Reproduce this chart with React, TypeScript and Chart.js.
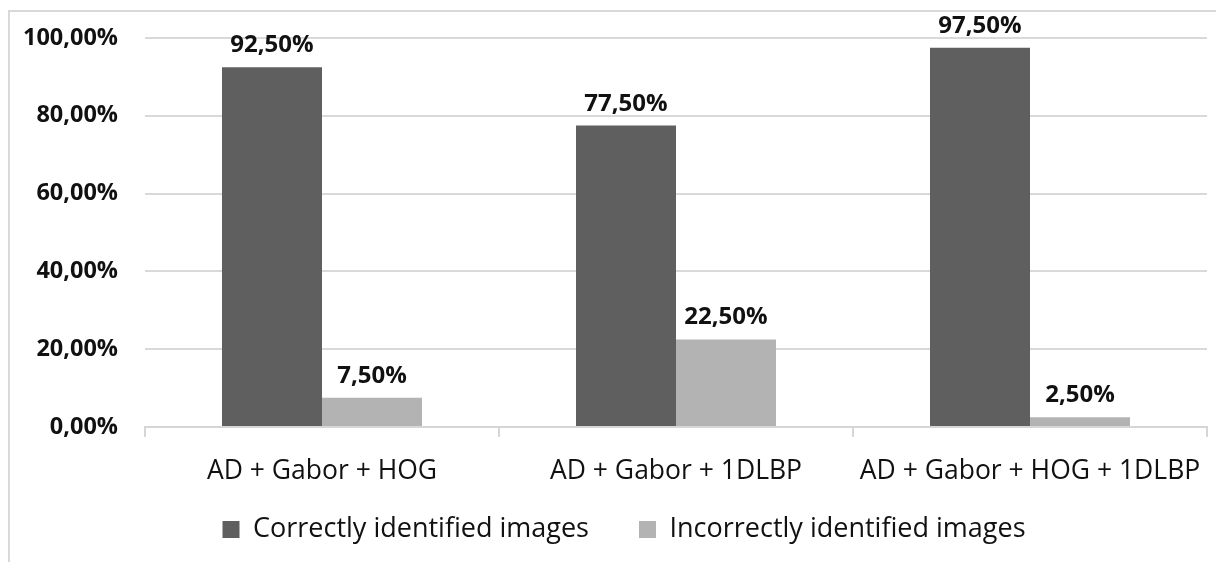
import React, { useEffect, useRef } from "react";
import { Chart, registerables } from "chart.js";

Chart.register(...registerables);

const categories = ["AD + Gabor + HOG", "AD + Gabor + 1DLBP", "AD + Gabor + HOG + 1DLBP"];
const correctValues = [92.5, 77.5, 97.5];
const incorrectValues = [7.5, 22.5, 2.5];
const seriesNames = ["Correctly identified images", "Incorrectly identified images"];
const yTicks = [0, 20, 40, 60, 80, 100];

const FONT = "'Open Sans', 'Noto Sans', sans-serif";
const fmt = (v: number) => v.toFixed(2).replace(".", ",") + "%";

const labelPlugin = {
  id: "barLabels",
  afterDatasetsDraw(chart: any) {
    const ctx = chart.ctx;
    ctx.save();
    ctx.font = `bold 24px ${FONT}`;
    ctx.fillStyle = "#111111";
    ctx.textAlign = "center";
    ctx.textBaseline = "alphabetic";
    chart.data.datasets.forEach((ds: any, di: number) => {
      const meta = chart.getDatasetMeta(di);
      meta.data.forEach((bar: any, i: number) => {
        ctx.fillText(fmt(ds.data[i]), bar.x, bar.y - 15);
      });
    });
    ctx.restore();
  },
};

export default function App() {
  const ref = useRef<HTMLCanvasElement | null>(null);
  useEffect(() => {
    if (!ref.current) return;
    const chart = new Chart(ref.current, {
      type: "bar",
      data: {
        labels: categories,
        datasets: [
          { label: seriesNames[0], data: correctValues, backgroundColor: "#5f5f5f" },
          { label: seriesNames[1], data: incorrectValues, backgroundColor: "#b3b3b3" },
        ],
      },
      plugins: [labelPlugin],
      options: {
        animation: false,
        responsive: true,
        maintainAspectRatio: false,
        layout: { padding: { top: 26, left: 31, right: 9, bottom: 9 } },
        datasets: { bar: { categoryPercentage: 0.565, barPercentage: 1.0 } },
        plugins: {
          legend: {
            position: "bottom",
            labels: {
              boxWidth: 17,
              boxHeight: 17,
              padding: 50,
              color: "#111111",
              font: { family: FONT, size: 27 },
            },
          },
          tooltip: { enabled: false },
        },
        scales: {
          x: {
            offset: true,
            afterFit: (scale: any) => {
              scale.height = 39;
              scale.paddingLeft = 0;
              scale.paddingRight = 0;
              scale._computeLabelArea = () => undefined;
            },
            grid: {
              display: true,
              offset: true,
              drawOnChartArea: false,
              drawTicks: true,
              tickLength: 10,
              color: "#d6d6d6",
              lineWidth: 2,
            },
            border: { display: true, color: "#d6d6d6", width: 2 },
            ticks: {
              color: "#111111",
              font: { family: FONT, size: 26.5 },
              padding: 19,
              maxRotation: 0,
              autoSkip: false,
            },
          },
          y: {
            min: 0,
            max: 100,
            afterBuildTicks: (scale: any) => {
              scale.ticks = yTicks.map((v) => ({ value: v }));
            },
            afterFit: (scale: any) => {
              scale.width = 104;
              scale.paddingTop = 0;
              scale.paddingBottom = 0;
              scale._computeLabelArea = () => undefined;
            },
            grid: { color: "#d9d9d9", lineWidth: 2, drawTicks: false },
            border: { display: false },
            ticks: {
              color: "#111111",
              font: { family: FONT, size: 23.5, weight: "bold" },
              padding: 27,
              callback: (v: any) => fmt(Number(v)),
            },
          },
        },
      },
    });
    return () => chart.destroy();
  }, []);

  return (
    <div
      style={{
        position: "fixed",
        top: 10,
        left: 8,
        right: 0,
        bottom: 0,
        borderTop: "2px solid #d9d9d9",
        borderLeft: "2px solid #d9d9d9",
        background: "#ffffff",
      }}
    >
      <div style={{ position: "relative", width: "100%", height: "100%" }}>
        <canvas ref={ref} />
      </div>
    </div>
  );
}
